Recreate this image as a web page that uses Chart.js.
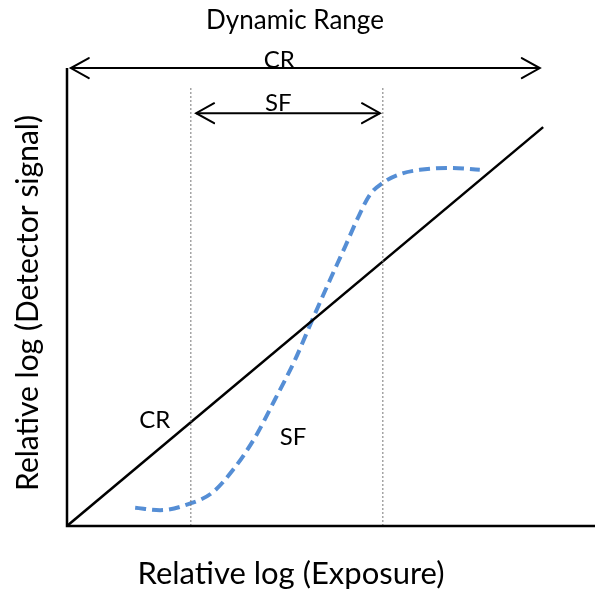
<!DOCTYPE html>
<html>
<head>
<meta charset="utf-8">
<script src="https://cdn.jsdelivr.net/npm/chart.js@4/dist/chart.umd.min.js"></script>
<style>
  html, body { margin: 0; padding: 0; background: #fff; }
  #wrap { width: 595px; height: 592px; }
</style>
</head>
<body>
<div id="wrap"><canvas id="myChart" width="595" height="592"></canvas></div>
<script>
// values, in relative log units (origin = axes corner)
var crLineX = [0, 9.92];
var crLineY = [0, 8.31];

var sfCurveX = [1.42, 1.94, 2.60, 3.02, 3.46, 3.92, 4.33, 4.75, 5.10, 5.48, 5.79, 6.06, 6.31, 6.58, 6.94, 7.35, 7.98, 8.60];
var sfCurveY = [0.38, 0.33, 0.48, 0.69, 1.17, 1.85, 2.63, 3.46, 4.27, 5.13, 5.81, 6.42, 6.90, 7.15, 7.33, 7.42, 7.46, 7.42];

var sfLimits = [2.58, 6.58];   // dotted verticals
var limitTop = 9.15;

var crArrowX = [0.08, 9.85];
var crArrowY = 9.54;
var sfArrowX = [2.69, 6.52];
var sfArrowY = 8.60;

var axisTopY = 9.54;
var axisRightX = 11;

// labels inside the plot: [text, x, y]
var plotLabels = [
  ['CR', 4.42, 9.71],
  ['SF', 4.40, 8.81],
  ['CR', 1.83, 2.21],
  ['SF', 4.71, 1.85]
];

var titleText = 'Dynamic Range';
var xTitle = 'Relative log (Exposure)';
var yTitle = 'Relative log (Detector signal)';

function pts(xs, ys) {
  var out = [];
  for (var i = 0; i < xs.length; i++) out.push({ x: xs[i], y: ys[i] });
  return out;
}

var FONT = 'Lato, "Open Sans", sans-serif';

var textPlugin = {
  id: 'texts',
  afterDatasetsDraw: function(chart) {
    var ctx = chart.ctx;
    var xs = chart.scales.x, ys = chart.scales.y;
    ctx.save();

    // open arrow heads on the two range arrows
    ctx.strokeStyle = '#000';
    ctx.lineWidth = 2;
    ctx.lineCap = 'round';
    [[crArrowX, crArrowY], [sfArrowX, sfArrowY]].forEach(function(a) {
      var py = ys.getPixelForValue(a[1]);
      var x0 = xs.getPixelForValue(a[0][0]);
      var x1 = xs.getPixelForValue(a[0][1]);
      ctx.beginPath();
      ctx.moveTo(x0 + 18, py - 10); ctx.lineTo(x0, py); ctx.lineTo(x0 + 18, py + 10);
      ctx.moveTo(x1 - 18, py - 10); ctx.lineTo(x1, py); ctx.lineTo(x1 - 18, py + 10);
      ctx.stroke();
    });

    ctx.fillStyle = '#000';
    ctx.textAlign = 'center';
    ctx.textBaseline = 'middle';
    ctx.font = '24px ' + FONT;
    plotLabels.forEach(function(l) {
      ctx.fillText(l[0], xs.getPixelForValue(l[1]), ys.getPixelForValue(l[2]));
    });

    ctx.font = '26px ' + FONT;
    ctx.fillText(titleText, 295, 21);

    ctx.font = '31px ' + FONT;
    ctx.fillText(xTitle, 291, 574);

    ctx.font = '30px ' + FONT;
    ctx.translate(28, 303);
    ctx.rotate(-Math.PI / 2);
    ctx.fillText(yTitle, 0, 0);
    ctx.restore();
  }
};

var ctx = document.getElementById('myChart');
var myChart = new Chart(ctx, {
  type: 'scatter',
  data: {
    datasets: [
      { // axes
        data: [{ x: 0, y: axisTopY }, { x: 0, y: 0 }, { x: axisRightX, y: 0 }],
        showLine: true, borderColor: '#000', borderWidth: 2.5, pointRadius: 0, clip: false
      },
      {
        data: [{ x: sfLimits[0], y: 0 }, { x: sfLimits[0], y: limitTop }],
        showLine: true, borderColor: '#777', borderWidth: 1, borderDash: [2, 2], pointRadius: 0
      },
      {
        data: [{ x: sfLimits[1], y: 0 }, { x: sfLimits[1], y: limitTop }],
        showLine: true, borderColor: '#777', borderWidth: 1, borderDash: [2, 2], pointRadius: 0
      },
      {
        data: pts(crLineX, crLineY),
        showLine: true, borderColor: '#000', borderWidth: 2.5, pointRadius: 0
      },
      {
        data: pts(sfCurveX, sfCurveY),
        showLine: true, borderColor: '#558ed5', borderWidth: 4, borderDash: [11, 6],
        cubicInterpolationMode: 'monotone', pointRadius: 0
      },
      {
        data: [{ x: crArrowX[0], y: crArrowY }, { x: crArrowX[1], y: crArrowY }],
        showLine: true, borderColor: '#000', borderWidth: 2, pointRadius: 0, clip: false
      },
      {
        data: [{ x: sfArrowX[0], y: sfArrowY }, { x: sfArrowX[1], y: sfArrowY }],
        showLine: true, borderColor: '#000', borderWidth: 2, pointRadius: 0
      }
    ]
  },
  options: {
    responsive: false,
    animation: false,
    events: [],
    layout: { padding: { left: 67, right: 0, top: 46, bottom: 66 } },
    scales: {
      x: { type: 'linear', min: 0, max: 11, display: false },
      y: { type: 'linear', min: 0, max: 10, display: false }
    },
    plugins: {
      legend: { display: false },
      tooltip: { enabled: false },
      title: { display: false }
    }
  },
  plugins: [textPlugin]
});
</script>
</body>
</html>
